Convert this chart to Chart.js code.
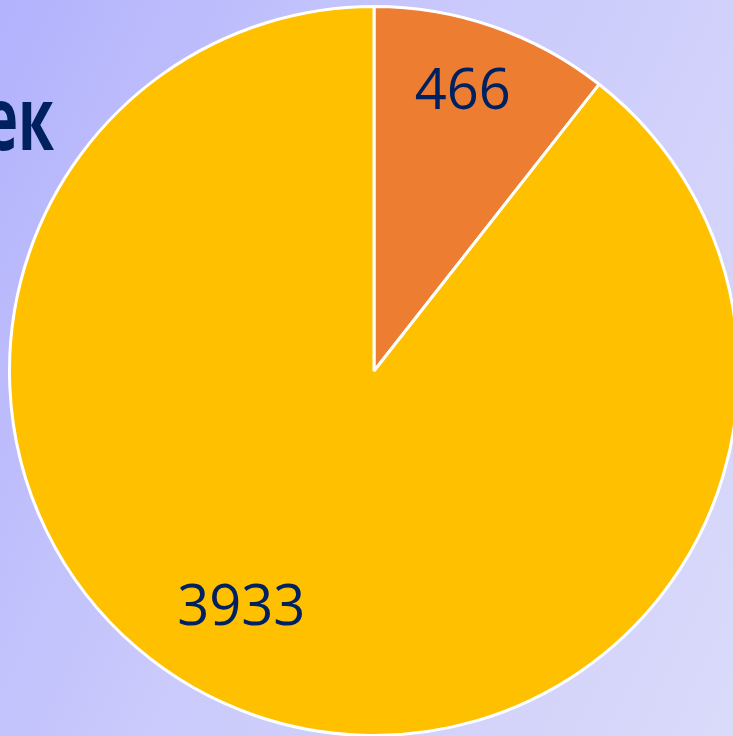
<!DOCTYPE html>
<html>
<head>
<meta charset="utf-8">
<script src="https://cdn.jsdelivr.net/npm/chart.js@4/dist/chart.umd.min.js"></script>
<style>
  html, body { margin: 0; padding: 0; width: 733px; height: 736px; overflow: hidden; }
  body { background: linear-gradient(115deg, #b2b2fd 0%, #cacafc 45%, #dadafa 100%); position: relative; }
  #wrap { position: absolute; left: 0; top: 0; width: 740px; height: 737px; }
</style>
</head>
<body>
<div id="wrap"><canvas id="c"></canvas></div>
<script>
const categories = ["A", "B"];
const values = [466, 3933];
const sliceColors = ["#ED7D31", "#FFC000"];
const titleFragment = "ек";

// label placement (layout): angle shift in degrees from slice middle, radius fraction
const labelLayout = [{ shift: -1.6, frac: 0.811 }, { shift: 10.5, frac: 0.738 }];

const labelPlugin = {
  id: 'labels',
  beforeDatasetsDraw(chart) {
    const ctx = chart.ctx;
    ctx.save();
    ctx.fillStyle = '#002060';
    ctx.font = 'bold 88px "Open Sans"';
    ctx.textAlign = 'right';
    ctx.textBaseline = 'alphabetic';
    ctx.translate(54, 150);
    ctx.scale(0.66, 1);
    ctx.fillText(titleFragment, 0, 0);
    ctx.restore();
  },
  afterDatasetsDraw(chart) {
    const ctx = chart.ctx;
    const meta = chart.getDatasetMeta(0);
    const fs = 56;
    ctx.save();
    ctx.fillStyle = '#002060';
    ctx.font = fs + 'px "Open Sans"';
    ctx.textAlign = 'center';
    ctx.textBaseline = 'alphabetic';
    meta.data.forEach((arc, i) => {
      const p = arc.getProps(['x', 'y', 'startAngle', 'endAngle', 'outerRadius'], true);
      const lay = labelLayout[i];
      const a = (p.startAngle + p.endAngle) / 2 + lay.shift * Math.PI / 180;
      const r = p.outerRadius * lay.frac;
      const x = p.x + Math.cos(a) * r;
      const y = p.y + Math.sin(a) * r;
      ctx.fillText(String(values[i]), x, y + fs * 0.357);
    });
    ctx.restore();
  }
};

new Chart(document.getElementById('c'), {
  type: 'pie',
  data: {
    labels: categories,
    datasets: [{
      data: values,
      backgroundColor: sliceColors,
      borderColor: '#ffffff',
      borderWidth: 3
    }]
  },
  options: {
    responsive: true,
    maintainAspectRatio: false,
    animation: false,
    layout: { padding: { left: 8, top: 5, right: 0, bottom: 0 } },
    plugins: {
      legend: { display: false },
      tooltip: { enabled: false },
      title: { display: false }
    }
  },
  plugins: [labelPlugin]
});
</script>
</body>
</html>
